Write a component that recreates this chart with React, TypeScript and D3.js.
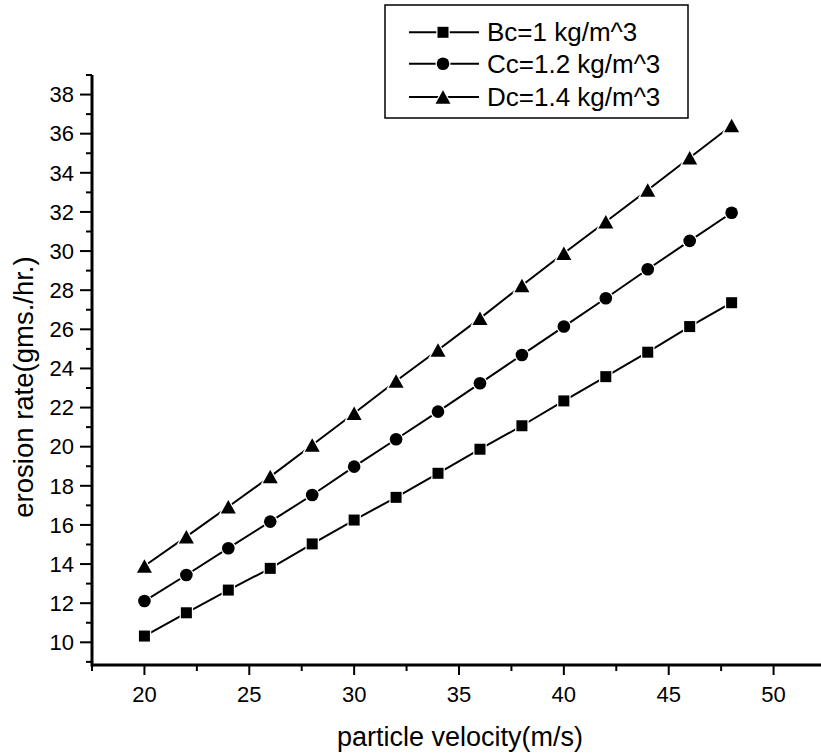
import React from "react";
import * as d3 from "d3";

const velocity = [20, 22, 24, 26, 28, 30, 32, 34, 36, 38, 40, 42, 44, 46, 48];
const seriesB = [10.32, 11.51, 12.67, 13.78, 15.03, 16.25, 17.41, 18.64, 19.87, 21.07, 22.34, 23.58, 24.83, 26.14, 27.36];
const seriesC = [12.11, 13.44, 14.81, 16.17, 17.53, 18.98, 20.38, 21.79, 23.24, 24.69, 26.14, 27.59, 29.07, 30.52, 31.96];
const seriesD = [13.9, 15.4, 16.93, 18.47, 20.09, 21.71, 23.36, 24.94, 26.56, 28.24, 29.89, 31.5, 33.12, 34.77, 36.42];
const seriesNames = ["Bc=1 kg/m^3", "Cc=1.2 kg/m^3", "Dc=1.4 kg/m^3"];
const seriesShapes = ["square", "circle", "triangle"];
const xTicks = [20, 25, 30, 35, 40, 45, 50];
const xMinor = [17.5, 22.5, 27.5, 32.5, 37.5, 42.5, 47.5, 52.5];
const yTicks = [10, 12, 14, 16, 18, 20, 22, 24, 26, 28, 30, 32, 34, 36, 38];
const yMinor = [9, 11, 13, 15, 17, 19, 21, 23, 25, 27, 29, 31, 33, 35, 37, 39];

const FONT = "'Liberation Sans', Arial, sans-serif";

function Marker({ shape, x, y }: { shape: string; x: number; y: number }) {
  const common = { fill: "#000", stroke: "#fff", strokeWidth: 2.5, paintOrder: "stroke" as any };
  if (shape === "square") {
    const s = 11;
    return <rect x={x - s / 2} y={y - s / 2} width={s} height={s} {...common} />;
  }
  if (shape === "circle") {
    return <circle cx={x} cy={y} r={6.3} {...common} />;
  }
  const w = 15, h = 13.5;
  return (
    <path
      d={`M${x},${y - h / 2}L${x + w / 2},${y + h / 2}L${x - w / 2},${y + h / 2}Z`}
      {...common}
    />
  );
}

export default function App() {
  const W = 821, H = 753;
  const x = d3.scaleLinear().domain([17.5, 52.5]).range([92, 826]);
  const y = d3.scaleLinear().domain([8.84, 39]).range([665, 75]);
  const all = [seriesB, seriesC, seriesD];
  const line = d3
    .line<number>()
    .x((_, i) => x(velocity[i]))
    .y((d) => y(d));

  return (
    <svg width={W} height={H} style={{ display: "block", position: "absolute", left: 0, top: 0, background: "#fff" }}>
      <rect width={W} height={H} fill="#fff" />
      {all.map((s, si) => (
        <g key={si}>
          <path d={line(s) || ""} fill="none" stroke="#000" strokeWidth={2} />
          {s.map((v, i) => (
            <Marker key={i} shape={seriesShapes[si]} x={x(velocity[i])} y={y(v)} />
          ))}
        </g>
      ))}
      <line x1={x(17.5)} x2={W + 10} y1={y(8.84)} y2={y(8.84)} stroke="#000" strokeWidth={3} />
      <line x1={x(17.5)} x2={x(17.5)} y1={y(8.84) + 1.5} y2={y(39)} stroke="#000" strokeWidth={3} />
      {xTicks.map((t) => (
        <g key={"xt" + t}>
          <line x1={x(t)} x2={x(t)} y1={y(8.84)} y2={y(8.84) + 10} stroke="#000" strokeWidth={2} />
          <text x={x(t)} y={702} textAnchor="middle" fontFamily={FONT} fontSize={22} fill="#000">
            {t}
          </text>
        </g>
      ))}
      {xMinor.map((t) => (
        <line key={"xm" + t} x1={x(t)} x2={x(t)} y1={y(8.84)} y2={y(8.84) + 6} stroke="#000" strokeWidth={2} />
      ))}
      {yTicks.map((t) => (
        <g key={"yt" + t}>
          <line x1={x(17.5) - 12} x2={x(17.5)} y1={y(t)} y2={y(t)} stroke="#000" strokeWidth={2} />
          <text x={74} y={y(t) + 7.8} textAnchor="end" fontFamily={FONT} fontSize={22} fill="#000">
            {t}
          </text>
        </g>
      ))}
      {yMinor.map((t) => (
        <line key={"ym" + t} x1={x(17.5) - 6} x2={x(17.5)} y1={y(t)} y2={y(t)} stroke="#000" strokeWidth={2} />
      ))}
      <text x={460} y={746} textAnchor="middle" fontFamily={FONT} fontSize={27} fill="#000">
        particle velocity(m/s)
      </text>
      <text
        transform={`translate(33,387) rotate(-90)`}
        textAnchor="middle"
        fontFamily={FONT}
        fontSize={27.5}
        fill="#000"
      >
        erosion rate(gms./hr.)
      </text>
      <rect x={385} y={5} width={303} height={113} fill="#fff" stroke="#000" strokeWidth={1.5} />
      {seriesNames.map((n, i) => {
        const cy = [32.3, 63.8, 97][i];
        return (
          <g key={"lg" + i}>
            <line x1={409} x2={479} y1={cy} y2={cy} stroke="#000" strokeWidth={2} />
            <Marker shape={seriesShapes[i]} x={443} y={cy} />
            <text x={487} y={cy + 9} fontFamily={FONT} fontSize={26} fill="#000">
              {n}
            </text>
          </g>
        );
      })}
    </svg>
  );
}
